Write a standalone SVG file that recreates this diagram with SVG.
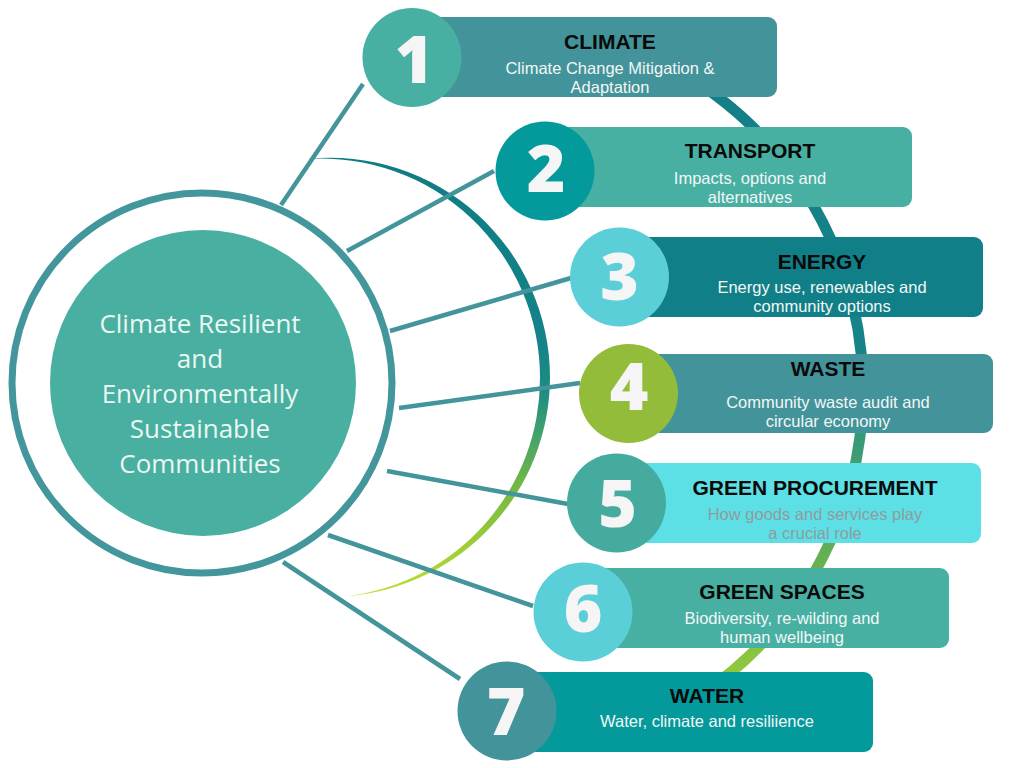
<svg xmlns="http://www.w3.org/2000/svg" width="1024" height="768" viewBox="0 0 1024 768">
<defs>
<linearGradient id="gBig" gradientUnits="userSpaceOnUse" x1="0" y1="70" x2="0" y2="700">
<stop offset="0" stop-color="#127e86"/>
<stop offset="0.45" stop-color="#17848a"/>
<stop offset="0.62" stop-color="#3f9f72"/>
<stop offset="0.8" stop-color="#6cb34c"/>
<stop offset="1" stop-color="#9ccd3a"/>
</linearGradient>
<linearGradient id="gSmall" gradientUnits="userSpaceOnUse" x1="0" y1="159" x2="0" y2="597">
<stop offset="0" stop-color="#0f7c84"/>
<stop offset="0.42" stop-color="#138389"/>
<stop offset="0.53" stop-color="#1f8c82"/>
<stop offset="0.62" stop-color="#3fa06e"/>
<stop offset="0.73" stop-color="#6db44a"/>
<stop offset="0.85" stop-color="#95c83a"/>
<stop offset="1" stop-color="#bde02e"/>
</linearGradient>
<style>
.conn{stroke:#44959b;stroke-width:4.5;fill:none;stroke-linecap:butt}
.card{rx:9;ry:9}
.num{font-family:"Open Sans","Liberation Sans",sans-serif;font-weight:800;font-size:66px;fill:#f5f5f5;text-anchor:middle}
.ttl{font-family:"Liberation Sans",Arial,sans-serif;font-weight:bold;font-size:21px;fill:#0a0a0a;text-anchor:middle}
.sub{font-family:"Liberation Sans",Arial,sans-serif;font-size:16.5px;fill:#f2f7f6;text-anchor:middle}
.subg{fill:#929b9c}
.ctr{font-family:"Open Sans","Liberation Sans",sans-serif;font-size:26px;fill:#eaf7f2;text-anchor:middle}
</style>
</defs>
<rect width="1024" height="768" fill="#ffffff"/>

<g id="backbone">
<path d="M677,70 A368,368 0 0 1 693,700" fill="none" stroke="url(#gBig)" stroke-width="11"/>
</g>

<g id="center">
<circle cx="202" cy="383" r="190" fill="none" stroke="#43969b" stroke-width="7"/>
<circle cx="203" cy="383" r="153" fill="#48afa1"/>
<text class="ctr"><tspan x="200" y="333">Climate Resilient</tspan><tspan x="200" y="368">and</tspan><tspan x="200" y="403">Environmentally</tspan><tspan x="200" y="438">Sustainable</tspan><tspan x="200" y="473">Communities</tspan></text>
</g>

<g id="arc">
<path d="M307,159 A220,220 0 0 1 550,378 A220,220 0 0 1 348,596 A219,219 0 0 0 540,378 A219,219 0 0 0 307,159 Z" fill="url(#gSmall)"/>
</g>

<g id="connectors">
<line class="conn" x1="281" y1="205" x2="363" y2="84"/>
<line class="conn" x1="347" y1="251" x2="494" y2="171"/>
<line class="conn" x1="390" y1="331" x2="571" y2="278"/>
<line class="conn" x1="399" y1="408" x2="580" y2="383"/>
<line class="conn" x1="387" y1="471" x2="568" y2="504"/>
<line class="conn" x1="328" y1="535" x2="533" y2="606"/>
<line class="conn" x1="283" y1="562" x2="460" y2="679"/>
</g>

<g id="node1">
<rect class="card" x="412" y="17" width="365" height="80" fill="#43939a"/>
<circle cx="412" cy="57.5" r="49.5" fill="#47b0a2"/>
<text class="num" x="414" y="83">1</text>
<text class="ttl" x="610" y="49">CLIMATE</text>
<text class="sub"><tspan x="610" y="74">Climate Change Mitigation &amp;</tspan><tspan x="610" y="93">Adaptation</tspan></text>
</g>

<g id="node2">
<rect class="card" x="545" y="127" width="367" height="80" fill="#48b0a3"/>
<circle cx="545" cy="171" r="49.5" fill="#049a9c"/>
<text class="num" x="546" y="192">2</text>
<text class="ttl" x="750" y="158">TRANSPORT</text>
<text class="sub"><tspan x="750" y="184">Impacts, options and</tspan><tspan x="750" y="203">alternatives</tspan></text>
</g>

<g id="node3">
<rect class="card" x="620" y="237" width="363" height="80" fill="#117f87"/>
<circle cx="619.5" cy="277" r="49.5" fill="#5bcfd8"/>
<text class="num" x="619.5" y="300">3</text>
<text class="ttl" x="822" y="269">ENERGY</text>
<text class="sub"><tspan x="822" y="293">Energy use, renewables and</tspan><tspan x="822" y="312">community options</tspan></text>
</g>

<g id="node4">
<rect class="card" x="628" y="354" width="365" height="79" fill="#43939a"/>
<circle cx="628.5" cy="393.5" r="49.5" fill="#92bc3a"/>
<text class="num" x="629" y="410">4</text>
<text class="ttl" x="828" y="376">WASTE</text>
<text class="sub"><tspan x="828" y="408">Community waste audit and</tspan><tspan x="828" y="427">circular economy</tspan></text>
</g>

<g id="node5">
<rect class="card" x="616" y="463" width="365" height="80" fill="#5ce0e6"/>
<circle cx="616.5" cy="503" r="49.5" fill="#46ab9f"/>
<text class="num" x="617.5" y="527">5</text>
<text class="ttl" x="815" y="495">GREEN PROCUREMENT</text>
<text class="sub subg"><tspan x="815" y="520">How goods and services play</tspan><tspan x="815" y="539">a crucial role</tspan></text>
</g>

<g id="node6">
<rect class="card" x="583" y="568" width="366" height="80" fill="#48b0a3"/>
<circle cx="583" cy="612" r="49.5" fill="#5bcfd8"/>
<text class="num" x="583" y="632">6</text>
<text class="ttl" x="782" y="599">GREEN SPACES</text>
<text class="sub"><tspan x="782" y="624">Biodiversity, re-wilding and</tspan><tspan x="782" y="643">human wellbeing</tspan></text>
</g>

<g id="node7">
<rect class="card" x="507" y="672" width="366" height="80" fill="#04999b"/>
<circle cx="507" cy="711" r="49.5" fill="#43939a"/>
<text class="num" x="506" y="735">7</text>
<text class="ttl" x="707" y="703">WATER</text>
<text class="sub"><tspan x="707" y="727">Water, climate and resiliience</tspan></text>
</g>
</svg>
